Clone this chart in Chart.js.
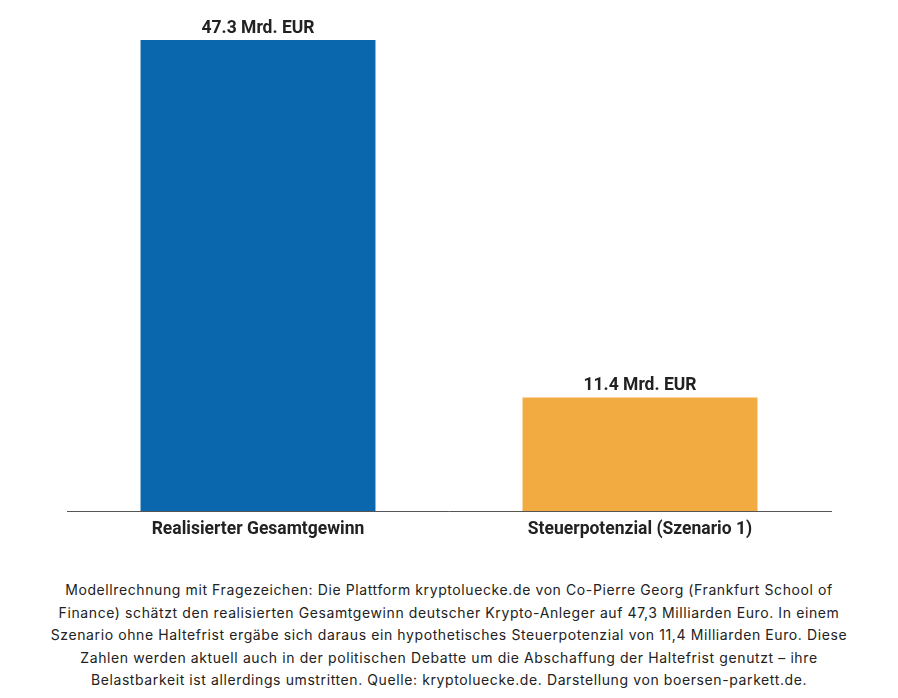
<!DOCTYPE html>
<html><head><meta charset="utf-8">
<script src="https://cdn.jsdelivr.net/npm/chart.js@4"></script>
<style>
html,body{margin:0;padding:0;background:#fff;width:898px;height:698px;overflow:hidden}
#wrap{position:absolute;left:0;top:0;width:898px;height:540px}
#cap{position:absolute;left:0;top:579px;width:898px;text-align:center;font-family:Inter,"Open Sans",sans-serif;font-size:14px;letter-spacing:0.6px;line-height:22.5px;color:#222}
</style></head><body>
<div id="wrap"><canvas id="c"></canvas></div>
<div id="cap">Modellrechnung mit Fragezeichen: Die Plattform kryptoluecke.de von Co-Pierre Georg (Frankfurt School of<br>Finance) schätzt den realisierten Gesamtgewinn deutscher Krypto-Anleger auf 47,3 Milliarden Euro. In einem<br>Szenario ohne Haltefrist ergäbe sich daraus ein hypothetisches Steuerpotenzial von 11,4 Milliarden Euro. Diese<br>Zahlen werden aktuell auch in der politischen Debatte um die Abschaffung der Haltefrist genutzt – ihre<br>Belastbarkeit ist allerdings umstritten. Quelle: kryptoluecke.de. Darstellung von boersen-parkett.de.</div>
<script>
const categories=["Realisierter Gesamtgewinn","Steuerpotenzial (Szenario 1)"];
const values=[47.3,11.4];
const valueLabels=["47.3 Mrd. EUR","11.4 Mrd. EUR"];
const colors=["#0a67ad","#f2ab40"];
const labelPlugin={id:"vl",afterDatasetsDraw(ch){const ctx=ch.ctx;const m=ch.getDatasetMeta(0);ctx.save();ctx.font="bold 17.5px Roboto";ctx.fillStyle="#222";ctx.textAlign="center";ctx.textBaseline="bottom";m.data.forEach((b,i)=>ctx.fillText(valueLabels[i],b.x,b.y-3));ctx.restore();}};
new Chart(document.getElementById("c"),{type:"bar",
data:{labels:categories,datasets:[{data:values,backgroundColor:colors,barPercentage:0.615,categoryPercentage:1}]},
options:{responsive:true,maintainAspectRatio:false,animation:false,
layout:{padding:{left:67,right:67,top:40,bottom:0}},
plugins:{legend:{display:false},tooltip:{enabled:false}},
scales:{y:{display:false,min:0,max:47.3},
x:{grid:{display:false},border:{display:true,color:"#555"},ticks:{color:"#222",font:{family:"Roboto",size:17.5,weight:"bold"},padding:0}}}},
plugins:[labelPlugin]});
</script></body></html>
